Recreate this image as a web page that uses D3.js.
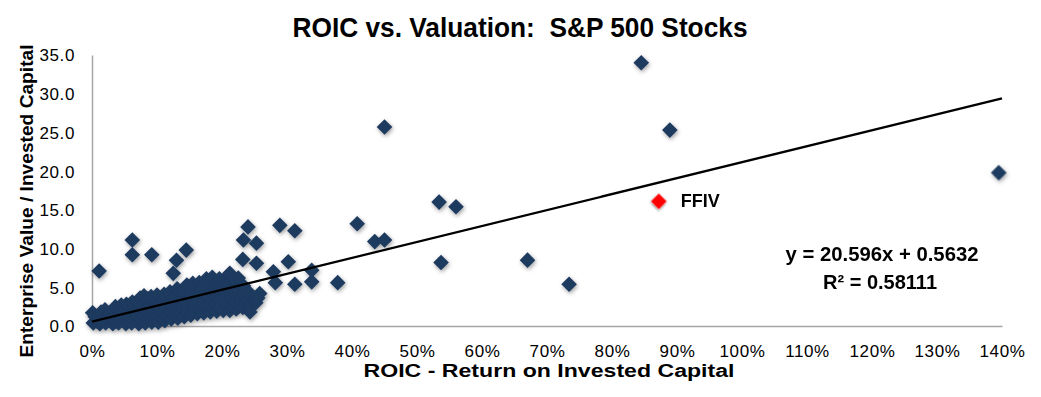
<!DOCTYPE html>
<html>
<head>
<meta charset="utf-8">
<script src="https://cdn.jsdelivr.net/npm/d3@7"></script>
<style>
  html, body { margin: 0; padding: 0; background: #fff; }
  svg { display: block; font-family: "Liberation Sans", Arial, Helvetica, sans-serif; }
</style>
</head>
<body>
<svg id="chart" width="1041" height="397"></svg>
<script>
// ---- Data (ROIC in %, EV / Invested Capital) ----
const chartTitle = "ROIC vs. Valuation:  S&P 500 Stocks";
const xAxisTitle = "ROIC - Return on Invested Capital";
const yAxisTitle = "Enterprise Value / Invested Capital";
const xTicks = [0, 10, 20, 30, 40, 50, 60, 70, 80, 90, 100, 110, 120, 130, 140];
const yTicks = [0, 5, 10, 15, 20, 25, 30, 35];

// dense cluster of S&P 500 stocks
const clusterStocks = [
  [0.2,0.4],[0.5,1.2],[0.1,1.7],[0.8,0.6],
  [1.2,0.3],[1.0,1.0],[1.4,1.8],[1.6,0.7],
  [2.1,0.4],[2.3,1.3],[2.0,2.1],[2.6,0.8],[2.8,1.7],
  [3.2,0.3],[3.0,1.1],[3.4,2.0],[3.6,2.5],[3.7,0.6],
  [4.1,0.4],[4.3,1.4],[4.0,2.2],[4.5,2.7],[4.7,0.9],[4.6,1.8],
  [5.2,0.3],[5.0,1.2],[5.4,2.0],[5.3,2.8],[5.7,0.7],[5.8,1.6],[5.6,2.5],
  [6.1,0.4],[6.3,1.1],[6.0,1.9],[6.4,2.7],[6.2,3.1],[6.7,0.8],[6.8,2.2],
  [7.2,0.3],[7.0,1.3],[7.3,2.0],[7.1,2.9],[7.4,3.6],[7.7,0.7],[7.8,1.7],[7.6,3.2],
  [8.2,0.4],[8.1,1.2],[8.4,2.1],[8.3,3.0],[8.0,3.9],[8.7,0.9],[8.8,2.6],[8.6,3.5],
  [9.2,0.5],[9.0,1.4],[9.3,2.2],[9.4,3.1],[9.1,3.8],[9.7,1.0],[9.8,2.8],
  [10.2,0.5],[10.1,1.4],[10.4,2.3],[10.3,3.2],[10.0,4.0],[10.7,1.0],[10.8,3.6],[10.6,2.8],
  [11.2,0.7],[11.0,1.6],[11.3,2.4],[11.4,3.3],[11.1,4.1],[11.7,1.2],[11.8,3.0],
  [12.2,0.9],[12.1,1.8],[12.4,2.6],[12.3,3.5],[12.0,4.4],[12.7,1.4],[12.8,3.9],[12.6,2.2],
  [13.2,1.0],[13.0,1.9],[13.3,2.8],[13.4,3.7],[13.1,4.8],[13.7,1.5],[13.8,4.2],[13.6,2.4],
  [14.2,1.2],[14.1,2.1],[14.4,3.0],[14.3,3.9],[14.0,4.7],[14.6,5.3],[14.7,1.7],[14.8,2.6],
  [15.2,1.4],[15.0,2.3],[15.3,3.1],[15.4,4.0],[15.1,4.9],[15.5,5.5],[15.7,1.9],[15.8,3.5],
  [16.2,1.6],[16.1,2.4],[16.4,3.2],[16.3,4.1],[16.0,5.0],[16.5,5.6],[16.7,2.0],[16.8,4.5],
  [17.2,1.7],[17.0,2.6],[17.3,3.4],[17.4,4.3],[17.1,5.2],[17.6,6.1],[17.7,2.2],[17.8,3.8],
  [18.2,1.8],[18.1,2.7],[18.4,3.6],[18.3,4.5],[18.0,5.4],[18.5,6.3],[18.7,2.3],[18.8,5.0],
  [19.2,1.9],[19.0,2.8],[19.3,3.7],[19.4,4.6],[19.1,5.5],[19.6,6.1],[19.7,2.4],[19.8,4.0],
  [20.2,2.0],[20.1,2.9],[20.4,3.8],[20.3,4.7],[20.0,5.6],[20.5,6.1],[20.7,2.5],[20.8,5.0],
  [21.2,2.0],[21.0,2.9],[21.3,3.8],[21.4,4.8],[21.1,5.7],[21.6,6.1],[21.7,2.5],[21.8,4.2],
  [22.2,2.2],[22.1,3.1],[22.4,4.0],[22.3,4.9],[22.0,5.8],[22.5,6.2],[22.7,2.6],[22.8,3.5],
  [23.2,2.4],[23.0,3.3],[23.4,4.2],[23.3,5.2],[23.7,2.8],[23.8,3.8],
  [24.2,2.6],[24.0,3.4],[24.3,4.2],[24.6,3.0],[24.3,1.8],
  [25.2,3.0],[25.5,3.6],[25.8,4.2]
];

// stocks outside the dense cluster
const outlierStocks = [
  [1.1,7.1],[6.2,11.1],[6.2,9.2],[9.2,9.2],[14.5,9.8],[13.0,8.5],[12.5,6.8],
  [21.2,6.8],[24.0,12.8],[23.3,11.1],[25.3,10.7],[23.2,8.6],[25.3,8.1],
  [28.9,13.0],[31.2,12.3],[30.2,8.3],[27.9,7.0],[28.2,5.6],[31.2,5.4],
  [33.8,5.7],[33.8,7.2],[37.8,5.6],[40.8,13.2],[43.5,10.9],[45.0,11.1],
  [45.0,25.7],[53.4,16.0],[56.0,15.4],[53.7,8.2],[67.0,8.5],[73.4,5.4],
  [84.5,34.0],[88.9,25.3],[139.5,19.8]
];

const highlightName = "FFIV";
const highlightStock = [87.2, 16.1];

// linear trendline as reported on the chart
const trendSlope = 20.596;     // per unit of ROIC (fraction)
const trendIntercept = 0.5632;
const trendEquation = "y = 20.596x + 0.5632";
const trendR2 = "R\u00B2 = 0.58111";

// ---- Drawing ----
const svg = d3.select("#chart");
const x = d3.scaleLinear().domain([0, 140]).range([92, 1002]);
const y = d3.scaleLinear().domain([0, 35]).range([326, 55]);

const defs = svg.append("defs");
const f = defs.append("filter").attr("id", "shadow")
  .attr("x", "-20%").attr("y", "-20%").attr("width", "140%").attr("height", "140%");
f.append("feDropShadow").attr("dx", 1).attr("dy", 1.8).attr("stdDeviation", 2)
  .attr("flood-color", "#000").attr("flood-opacity", 0.38);

// Title
svg.append("text")
  .attr("x", 520).attr("y", 37)
  .attr("text-anchor", "middle")
  .attr("font-size", 28).attr("font-weight", "bold")
  .attr("textLength", 455).attr("lengthAdjust", "spacingAndGlyphs")
  .style("white-space", "pre")
  .text(chartTitle);

// Axes
const xAxis = d3.axisBottom(x).tickValues(xTicks).tickSize(0).tickPadding(0)
  .tickFormat(d => d + "%");
const yAxis = d3.axisLeft(y).tickValues(yTicks).tickSize(0).tickPadding(0)
  .tickFormat(d3.format(".1f"));

const gx = svg.append("g").attr("transform", "translate(0,326)").call(xAxis);
gx.select(".domain").attr("stroke", "#a6a6a6").attr("stroke-width", 1.5);
gx.selectAll("text").attr("y", 31).attr("dy", 0)
  .attr("font-size", 17).attr("letter-spacing", 0.6).attr("fill", "#000")
  .attr("font-family", "'Liberation Sans', Arial, sans-serif");

const gy = svg.append("g").attr("transform", "translate(92,0)").call(yAxis);
gy.select(".domain").attr("stroke", "#a6a6a6").attr("stroke-width", 1.5);
gy.selectAll("text").attr("x", -17).attr("dy", "0.35em")
  .attr("font-size", 17).attr("letter-spacing", 0.6).attr("fill", "#000")
  .attr("font-family", "'Liberation Sans', Arial, sans-serif");

// Axis titles
svg.append("text")
  .attr("x", 549).attr("y", 377)
  .attr("text-anchor", "middle")
  .attr("font-size", 18).attr("font-weight", "bold")
  .attr("textLength", 371).attr("lengthAdjust", "spacingAndGlyphs")
  .text(xAxisTitle);

svg.append("text")
  .attr("transform", "translate(33,201) rotate(-90)")
  .attr("text-anchor", "middle")
  .attr("font-size", 18).attr("font-weight", "bold")
  .attr("textLength", 313).attr("lengthAdjust", "spacingAndGlyphs")
  .text(yAxisTitle);

// Points
const diamond = d3.symbol().type(d3.symbolSquare).size(122);
const allStocks = clusterStocks.concat(outlierStocks);
svg.append("g").attr("filter", "url(#shadow)")
  .selectAll("path").data(allStocks).join("path")
  .attr("d", diamond)
  .attr("transform", d => `translate(${x(d[0])},${y(d[1])}) rotate(45)`)
  .attr("fill", "#1e3a5f");

// Trendline
svg.append("line")
  .attr("x1", x(0)).attr("y1", y(trendIntercept))
  .attr("x2", x(140)).attr("y2", y(trendSlope * 1.4 + trendIntercept))
  .attr("stroke", "#000").attr("stroke-width", 2.2);

// Highlighted stock
svg.append("path")
  .attr("filter", "url(#shadow)")
  .attr("d", diamond)
  .attr("transform", `translate(${x(highlightStock[0])},${y(highlightStock[1])}) rotate(45)`)
  .attr("fill", "#ff0000");

svg.append("text")
  .attr("x", x(highlightStock[0]) + 22).attr("y", y(highlightStock[1]) + 6)
  .attr("font-size", 18).attr("font-weight", "bold")
  .text(highlightName);

// Regression text
svg.append("text")
  .attr("x", 882).attr("y", 261)
  .attr("text-anchor", "middle")
  .attr("font-size", 20).attr("font-weight", "bold")
  .attr("textLength", 193).attr("lengthAdjust", "spacingAndGlyphs")
  .text(trendEquation);
svg.append("text")
  .attr("x", 880).attr("y", 289)
  .attr("text-anchor", "middle")
  .attr("font-size", 20).attr("font-weight", "bold")
  .attr("textLength", 114).attr("lengthAdjust", "spacingAndGlyphs")
  .text(trendR2);
</script>
</body>
</html>
